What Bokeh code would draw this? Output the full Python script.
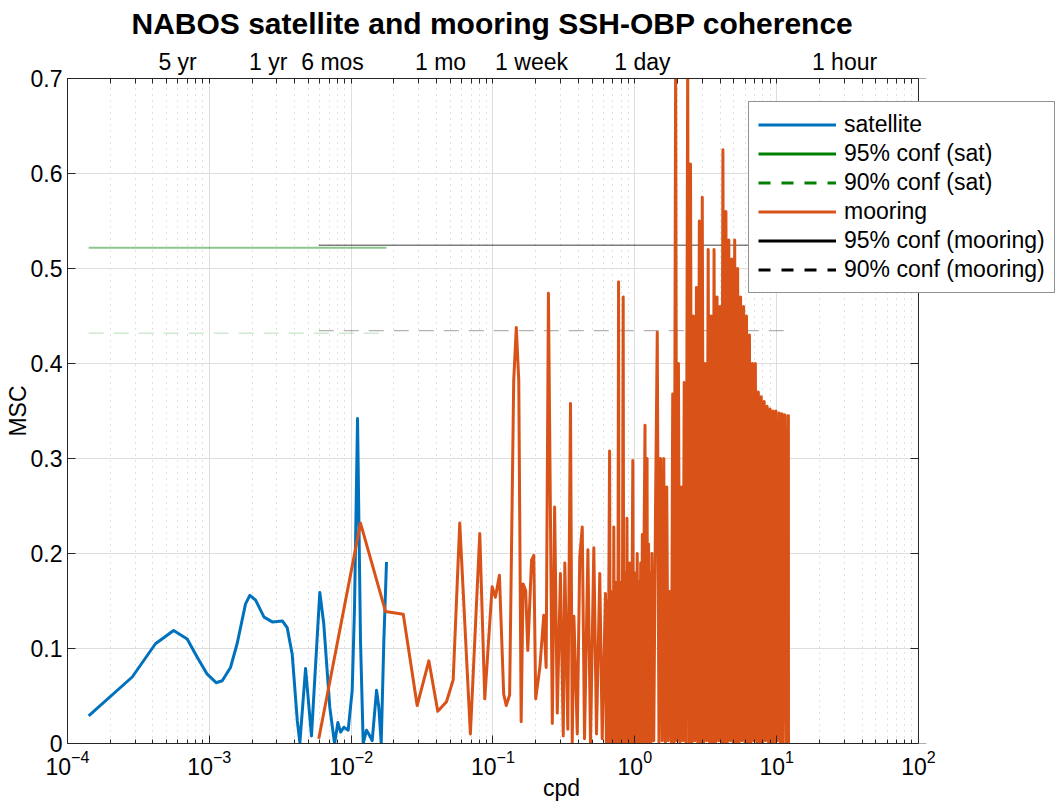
from bokeh.plotting import figure
from bokeh.models import (LogAxis, FixedTicker, Range1d, Legend, LegendItem,
                          CustomJSTickFormatter, BoxAnnotation, Span)
from bokeh.embed import file_html
from bokeh.resources import INLINE

FONT = "Liberation Sans"

# ---------------- data ----------------
sat_freq = [1.41e-4, 2.86e-4, 4.17e-4, 5.6e-4, 6.98e-4, 8.2e-4, 9.66e-4, 1.117e-3, 1.233e-3, 1.41e-3,
            1.57e-3, 1.80e-3, 1.93e-3, 2.12e-3, 2.43e-3, 2.78e-3, 3.27e-3, 3.54e-3, 3.84e-3, 4.17e-3,
            4.35e-3, 4.77e-3, 5.25e-3, 6.01e-3, 6.41e-3, 7.07e-3, 7.64e-3, 8.06e-3, 8.42e-3, 8.88e-3,
            9.53e-3, 1.017e-2, 1.056e-2, 1.109e-2, 1.164e-2, 1.216e-2, 1.283e-2, 1.332e-2, 1.407e-2, 1.51e-2,
            1.567e-2, 1.629e-2, 1.70e-2, 1.775e-2]
sat_msc = [0.029, 0.070, 0.105, 0.119, 0.110, 0.091, 0.073, 0.064, 0.066, 0.080,
           0.105, 0.147, 0.156, 0.151, 0.133, 0.128, 0.129, 0.122, 0.094, 0.024,
           0.001, 0.079, 0.008, 0.159, 0.126, 0.038, 0.0, 0.022, 0.012, 0.017,
           0.014, 0.056, 0.143, 0.342, 0.108, 0.0, 0.014, 0.010, 0.003, 0.056,
           0.038, 0.0, 0.108, 0.191]

moor_freq = [5.91e-3, 1.164e-2, 1.746e-2, 2.33e-2, 2.92e-2, 3.53e-2, 4.08e-2, 4.70e-2, 5.24e-2, 5.83e-2,
             6.93e-2, 8.07e-2, 8.75e-2, 9.86e-2, 0.104, 0.111, 0.119, 0.124, 0.131, 0.140,
             0.146, 0.152, 0.158, 0.163, 0.170, 0.176, 0.187, 0.194, 0.200, 0.214,
             0.228, 0.237, 0.246, 0.262, 0.272, 0.284, 0.299, 0.313, 0.321, 0.337,
             0.352, 0.362, 0.372, 0.393, 0.409, 0.426, 0.442, 0.467, 0.487, 0.514,
             0.537, 0.566, 0.589, 0.621, 0.630, 0.639, 0.648, 0.656, 0.664, 0.672,
             0.680, 0.688, 0.697, 0.705, 0.711, 0.720, 0.728, 0.736, 0.745, 0.754,
             0.762, 0.768, 0.776, 0.785, 0.793, 0.803, 0.812, 0.820, 0.828, 0.836,
             0.845, 0.853, 0.862, 0.871, 0.880, 0.890, 0.900, 0.910, 0.920, 0.930,
             0.940, 0.950, 0.960, 0.968, 0.978, 0.990, 1.00, 1.01, 1.02, 1.04,
             1.05, 1.07, 1.08, 1.10, 1.11, 1.13, 1.14, 1.16, 1.18, 1.19,
             1.20, 1.22, 1.23, 1.25, 1.26, 1.28, 1.30, 1.32, 1.36, 1.40,
             1.44, 1.48, 1.52, 1.56, 1.60, 1.64, 1.68, 1.72, 1.77, 1.81,
             1.85, 1.89, 1.94, 1.98, 2.03, 2.08, 2.13, 2.18, 2.23, 2.29,
             2.36, 2.41, 2.47, 2.53, 2.59, 2.65, 2.72, 2.78, 2.85, 2.92,
             2.99, 3.06, 3.14, 3.21, 3.29, 3.37, 3.45, 3.54, 3.62, 3.71,
             3.80, 3.89, 3.99, 4.08, 4.18, 4.28, 4.39, 4.49, 4.60, 4.71,
             4.83, 4.94, 5.06, 5.19, 5.31, 5.44, 5.57, 5.71, 5.85, 5.99,
             6.13, 6.28, 6.43, 6.59, 6.75, 6.91, 7.08, 7.25, 7.43, 7.61,
             7.79, 7.98, 8.17, 8.37, 8.57, 8.78, 8.99, 9.21, 9.43, 9.66,
             9.89, 10.1, 10.4, 10.6, 10.9, 11.1, 11.4, 11.7, 12.0, 12.1,
             12.12]
moor_msc = [0.005, 0.232, 0.139, 0.136, 0.040, 0.087, 0.034, 0.044, 0.067, 0.232,
            0.010, 0.221, 0.047, 0.165, 0.154, 0.177, 0.052, 0.040, 0.051, 0.382,
            0.438, 0.382, 0.023, 0.168, 0.161, 0.098, 0.193, 0.198, 0.047, 0.080,
            0.135, 0.080, 0.474, 0.021, 0.249, 0.032, 0.179, 0.008, 0.190, 0.015,
            0.358, 0.0, 0.134, 0.010, 0.196, 0.228, 0.005, 0.204, 0.0, 0.206,
            0.010, 0.179, 0.005, 0.158, 0.0, 0.15, 0.0, 0.17, 0.308, 0.0,
            0.16, 0.0, 0.14, 0.0, 0.228, 0.0, 0.17, 0.0, 0.15, 0.0,
            0.20, 0.486, 0.0, 0.17, 0.0, 0.16, 0.0, 0.20, 0.470, 0.0,
            0.15, 0.0, 0.18, 0.0, 0.237, 0.0, 0.16, 0.0, 0.19, 0.0,
            0.17, 0.0, 0.20, 0.298, 0.0, 0.18, 0.0, 0.16, 0.0, 0.200,
            0.0, 0.17, 0.0, 0.19, 0.0, 0.22, 0.0, 0.20, 0.335, 0.0,
            0.20, 0.300, 0.0, 0.21, 0.0, 0.18, 0.0, 0.20, 0.003, 0.25,
            0.433, 0.0, 0.30, 0.003, 0.30, 0.0, 0.27, 0.003, 0.16, 0.0,
            0.368, 0.0, 0.72, 0.003, 0.40, 0.0, 0.27, 0.003, 0.38, 0.0,
            0.72, 0.0, 0.61, 0.0, 0.45, 0.003, 0.48, 0.0, 0.55, 0.0,
            0.575, 0.0, 0.40, 0.003, 0.52, 0.0, 0.45, 0.0, 0.52, 0.0,
            0.47, 0.003, 0.46, 0.0, 0.625, 0.0, 0.56, 0.0, 0.53, 0.003,
            0.51, 0.0, 0.53, 0.0, 0.50, 0.0, 0.47, 0.003, 0.46, 0.0,
            0.45, 0.0, 0.43, 0.0, 0.40, 0.003, 0.40, 0.0, 0.37, 0.0,
            0.365, 0.0, 0.36, 0.003, 0.355, 0.0, 0.352, 0.0, 0.35, 0.0,
            0.35, 0.003, 0.348, 0.0, 0.347, 0.0, 0.346, 0.0, 0.345, 0.345,
            0.0]
assert len(moor_freq) == len(moor_msc)
assert len(sat_freq) == len(sat_msc)
assert all(b > a for a, b in zip(moor_freq, moor_freq[1:]))

sat_conf95 = 0.5218
sat_conf90 = 0.4319
moor_conf95 = 0.5246
moor_conf90 = 0.4347

y_ticks = [0, 0.1, 0.2, 0.3, 0.4, 0.5, 0.6, 0.7]
x_decades = [1e-4, 1e-3, 1e-2, 1e-1, 1e0, 1e1, 1e2]
period_labels = ["5 yr", "1 yr", "6 mos", "1 mo", "1 week", "1 day", "1 hour"]
period_cpd = [5.97e-4, 2.60e-3, 7.39e-3, 4.27e-2, 0.187, 1.13, 30.1]

legend_labels = ["satellite", "95% conf (sat)", "90% conf (sat)",
                 "mooring", "95% conf (mooring)", "90% conf (mooring)"]

BLUE = "#0072BD"
ORANGE = "#D95319"
GREEN = "#008000"
AXC = "#262626"

X_MIN, X_MAX = 1e-4, 1e2      # axes box limits
X_CANVAS_END = 925.0          # frame extended to the right so the legend can overhang the box

minor_x = [k * d for d in x_decades[:-1] for k in range(2, 10)]

# ---------------- figure ----------------
p = figure(width=1055, height=803, x_axis_type="log",
           x_range=Range1d(X_MIN, X_CANVAS_END), y_range=Range1d(0, 0.7),
           output_backend="svg", toolbar_location=None,
           min_border_left=67, min_border_right=0, min_border_top=78, min_border_bottom=60)
p.outline_line_color = None
p.background_fill_color = "white"
p.border_fill_color = "white"

p.title.text = "NABOS satellite and mooring SSH-OBP coherence"
p.title.align = "left"
p.title.offset = 64
p.title.standoff = 8
p.title.vertical_align = "top"
p.title.text_font = FONT
p.title.text_font_size = "30px"
p.title.text_font_style = "bold"
p.title.text_color = "#000000"

def style_axis(ax):
    ax.axis_line_color = AXC
    ax.axis_line_width = 1
    ax.major_tick_line_color = AXC
    ax.minor_tick_line_color = AXC
    ax.major_tick_out = 0
    ax.minor_tick_out = 0
    ax.major_label_text_font = FONT
    ax.major_label_text_font_size = "23px"
    ax.major_label_text_color = "#000000"
    ax.axis_label_text_font = FONT
    ax.axis_label_text_font_size = "23px"
    ax.axis_label_text_font_style = "normal"
    ax.axis_label_text_color = "#000000"

xb = p.xaxis[0]
style_axis(xb)
xb.axis_label = "cpd"
xb.ticker = FixedTicker(ticks=x_decades, minor_ticks=minor_x)
xb.bounds = (X_MIN, X_MAX)
xb.major_tick_in = 8
xb.minor_tick_in = 4
xb.major_label_standoff = 6
xb.axis_label_standoff = -3

yl = p.yaxis[0]
style_axis(yl)
yl.axis_label = "MSC"
yl.ticker = FixedTicker(ticks=y_ticks)
yl.formatter = CustomJSTickFormatter(code="return Number(tick.toFixed(1)).toString()")
yl.major_tick_in = 8
yl.minor_tick_line_color = None
yl.major_label_standoff = 5
yl.axis_label_standoff = -3

# top axis with period labels
xt = LogAxis(ticker=FixedTicker(ticks=period_cpd, minor_ticks=x_decades + minor_x),
             major_label_overrides={c: l for c, l in zip(period_cpd, period_labels)})
style_axis(xt)
xt.bounds = (X_MIN, X_MAX)
xt.major_tick_in = 0
xt.minor_tick_in = 5
xt.major_label_standoff = 4
p.add_layout(xt, "above")

# grids
p.xgrid.ticker = FixedTicker(ticks=x_decades, minor_ticks=minor_x)
p.xgrid.grid_line_color = "#dedede"
p.xgrid.minor_grid_line_color = "#c4c4c4"
p.xgrid.minor_grid_line_dash = "1 5"
p.ygrid.grid_line_color = "#dedede"
p.ygrid.ticker = FixedTicker(ticks=y_ticks)

# ---------------- glyphs ----------------
p.line([sat_freq[0], sat_freq[-1]], [sat_conf95, sat_conf95], line_color=GREEN, line_alpha=0.45, line_width=2)
p.line([sat_freq[0], sat_freq[-1]], [sat_conf90, sat_conf90], line_color=GREEN, line_alpha=0.18,
       line_width=1.5, line_dash="15 10")
p.line([moor_freq[0], moor_freq[-1]], [moor_conf95, moor_conf95], line_color="black", line_alpha=0.5, line_width=1.5)
p.line([moor_freq[0], moor_freq[-1]], [moor_conf90, moor_conf90], line_color="black", line_alpha=0.3,
       line_width=1.2, line_dash="15 10")

r_sat = p.line(sat_freq, sat_msc, line_color=BLUE, line_width=3, line_join="round")
r_moor = p.line(moor_freq, moor_msc, line_color=ORANGE, line_width=3, line_join="round")

# right-hand box side: inward ticks (right half hidden by the mask below)
p.scatter([X_MAX] * len(y_ticks), y_ticks, marker="dash", size=16, line_color=AXC, line_width=1)

# legend proxies (drawn outside the visible y-range)
r_g95 = p.line([1e-3, 1e-2], [-1, -1], line_color=GREEN, line_width=3)
r_g90 = p.line([1e-3, 1e-2], [-1, -1], line_color=GREEN, line_width=3, line_dash="12 11")
r_k95 = p.line([1e-3, 1e-2], [-1, -1], line_color="black", line_width=3)
r_k90 = p.line([1e-3, 1e-2], [-1, -1], line_color="black", line_width=3, line_dash="12 11")

# mask everything right of the axes box, then draw the box's right edge
p.add_layout(BoxAnnotation(left=X_MAX, fill_color="white", fill_alpha=1.0, line_color=None))
p.add_layout(Span(location=X_MAX, dimension="height", line_color=AXC, line_width=1))

legend = Legend(items=[LegendItem(label=legend_labels[0], renderers=[r_sat]),
                       LegendItem(label=legend_labels[1], renderers=[r_g95]),
                       LegendItem(label=legend_labels[2], renderers=[r_g90]),
                       LegendItem(label=legend_labels[3], renderers=[r_moor]),
                       LegendItem(label=legend_labels[4], renderers=[r_k95]),
                       LegendItem(label=legend_labels[5], renderers=[r_k90])],
                location=(681, 450))
legend.label_text_font = FONT
legend.label_text_font_size = "23px"
legend.label_text_color = "#000000"
legend.glyph_width = 78
legend.glyph_height = 23
legend.label_height = 23
legend.spacing = 2
legend.padding = 9
legend.margin = 0
legend.label_standoff = 8
legend.border_line_color = AXC
legend.border_line_width = 1
legend.background_fill_color = "white"
legend.background_fill_alpha = 1.0
p.add_layout(legend)

open("out.html", "w").write(file_html(p, INLINE))
